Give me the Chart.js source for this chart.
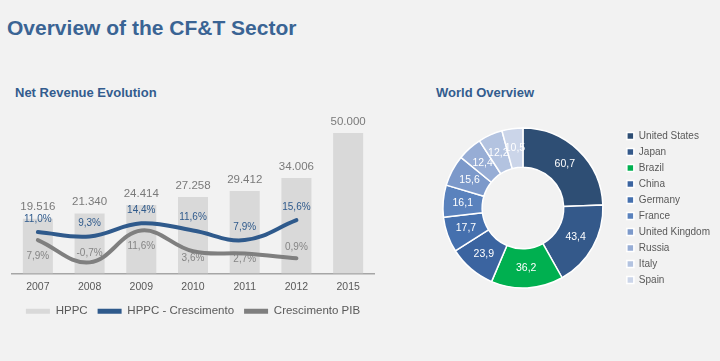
<!DOCTYPE html>
<html>
<head>
<meta charset="utf-8">
<script src="https://cdn.jsdelivr.net/npm/chart.js@4.4.1/dist/chart.umd.min.js"></script>
<style>
  html, body { margin: 0; padding: 0; background: #F2F2F2; width: 720px; height: 361px; overflow: hidden; }
  body { position: relative; font-family: 'Liberation Sans', Arial, sans-serif; }
  .t { position: absolute; white-space: nowrap; font-weight: bold; line-height: 1; }
  #title { left: 7px; top: 17px; font-size: 21px; color: #3A6494; }
  #sub1 { left: 15px; top: 86px; font-size: 13px; color: #335C8E; }
  #sub2 { left: 436px; top: 86px; font-size: 13px; color: #335C8E; }
  #barWrap { position: absolute; left: 0; top: 100px; width: 387px; height: 227px; }
  #pieWrap { position: absolute; left: 425px; top: 108px; width: 295px; height: 200px; }
</style>
</head>
<body>
<div class="t" id="title">Overview of the CF&amp;T Sector</div>
<div class="t" id="sub1">Net Revenue Evolution</div>
<div class="t" id="sub2">World Overview</div>
<div id="barWrap"><canvas id="bar"></canvas></div>
<div id="pieWrap"><canvas id="pie"></canvas></div>
<script>
// ---- data ----
const years = ['2007', '2008', '2009', '2010', '2011', '2012', '2015'];
const hppc = [19516, 21340, 24414, 27258, 29412, 34006, 50000];
const hppcGrowth = [11.0, 9.3, 14.4, 11.6, 7.9, 15.6, null];
const gdpGrowth = [7.9, -0.7, 11.6, 3.6, 2.7, 0.9, null];

const countries = ['United States', 'Japan', 'Brazil', 'China', 'Germany', 'France', 'United Kingdom', 'Russia', 'Italy', 'Spain'];
const countryValues = [60.7, 43.4, 36.2, 23.9, 17.7, 16.1, 15.6, 12.4, 12.2, 10.5];

// ---- styles ----
const FONT = "'Liberation Sans', Arial, sans-serif";
Chart.defaults.font.family = FONT;
const BLUE = '#2F5A8C';
const GREY = '#7F7F7F';
const BARC = '#D9D9D9';
const countryColors = ['#2E4E74', '#34598A', '#00B050', '#3B64A0', '#4570AE', '#5A82BD', '#7C99CA', '#97ADD5', '#B3C3E0', '#CBD5E9'];
// label placement style for GDP labels (vertical offset from point, px)
const gdpLabelOffset = [16, -9, 16, 7, 6, -11];

function thousands(v) {
  return String(v).replace(/\B(?=(\d{3})+(?!\d))/g, '.');
}
function pct(v) {
  return v.toFixed(1).replace('.', ',') + '%';
}

const barLabels = {
  id: 'barLabels',
  afterDatasetsDraw(chart) {
    const ctx = chart.ctx;
    ctx.save();
    ctx.textAlign = 'center';
    ctx.textBaseline = 'middle';
    const m0 = chart.getDatasetMeta(0);
    ctx.font = '11.5px ' + FONT;
    ctx.fillStyle = '#7A7A7A';
    m0.data.forEach((el, i) => {
      ctx.fillText(thousands(hppc[i]), el.x, el.y - 11.5);
    });
    const m1 = chart.getDatasetMeta(1);
    ctx.font = '10px ' + FONT;
    ctx.fillStyle = BLUE;
    m1.data.forEach((el, i) => {
      if (hppcGrowth[i] == null) return;
      ctx.fillText(pct(hppcGrowth[i]), el.x, el.y - 13);
    });
    const m2 = chart.getDatasetMeta(2);
    ctx.fillStyle = '#858585';
    m2.data.forEach((el, i) => {
      if (gdpGrowth[i] == null) return;
      ctx.fillText(pct(gdpGrowth[i]), el.x, el.y + gdpLabelOffset[i]);
    });
    ctx.restore();
  }
};

new Chart(document.getElementById('bar'), {
  data: {
    labels: years,
    datasets: [
      {
        type: 'bar', label: 'HPPC', data: hppc, yAxisID: 'y',
        backgroundColor: BARC, borderWidth: 0,
        barPercentage: 0.58, categoryPercentage: 1, order: 1
      },
      {
        type: 'line', label: 'HPPC - Crescimento', data: hppcGrowth, yAxisID: 'y2',
        borderColor: BLUE, backgroundColor: BLUE, borderWidth: 4, tension: 0.4,
        pointRadius: 0, fill: false, order: 0, borderCapStyle: 'round'
      },
      {
        type: 'line', label: 'Crescimento PIB', data: gdpGrowth, yAxisID: 'y2',
        borderColor: GREY, backgroundColor: GREY, borderWidth: 4, tension: 0.4,
        pointRadius: 0, fill: false, order: 0, borderCapStyle: 'round'
      }
    ]
  },
  options: {
    responsive: true, maintainAspectRatio: false, animation: false,
    layout: { padding: { left: 12, right: 13, top: 12, bottom: 0 } },
    plugins: {
      tooltip: { enabled: false },
      legend: {
        position: 'bottom',
        labels: {
          boxWidth: 24, boxHeight: 5, padding: 10,
          color: '#595959', font: { size: 11.5 },
          sort: (a, b) => a.datasetIndex - b.datasetIndex,
          generateLabels(chart) {
            return chart.data.datasets.map((ds, i) => ({
              text: ds.label,
              fillStyle: ds.type === 'bar' ? ds.backgroundColor : ds.borderColor,
              strokeStyle: 'rgba(0,0,0,0)', lineWidth: 0,
              fontColor: '#595959',
              datasetIndex: i, hidden: false
            }));
          }
        }
      }
    },
    scales: {
      x: {
        grid: { display: false, drawTicks: false },
        border: { display: true, color: '#A6A6A6', width: 1.5 },
        ticks: { color: '#595959', font: { size: 10.5 }, padding: 7 },
        afterFit(scale) { scale.height = 22; }
      },
      y: { display: false, min: 0, max: 57500 },
      y2: { display: false, min: -5, max: 57.4 }
    }
  },
  plugins: [barLabels]
});

const pieLabels = {
  id: 'pieLabels',
  afterDatasetsDraw(chart) {
    const ctx = chart.ctx;
    const meta = chart.getDatasetMeta(0);
    ctx.save();
    ctx.textAlign = 'center';
    ctx.textBaseline = 'middle';
    ctx.font = '10.5px ' + FONT;
    ctx.fillStyle = '#FFFFFF';
    meta.data.forEach((arc, i) => {
      const p = arc.tooltipPosition();
      ctx.fillText(String(countryValues[i]).replace('.', ','), p.x, p.y);
    });
    ctx.restore();
  }
};

new Chart(document.getElementById('pie'), {
  type: 'doughnut',
  data: {
    labels: countries,
    datasets: [{
      data: countryValues,
      backgroundColor: countryColors,
      borderColor: '#FFFFFF', borderWidth: 1.5
    }]
  },
  options: {
    responsive: true, maintainAspectRatio: false, animation: false,
    cutout: '51%',
    radius: 80,
    layout: { padding: 0 },
    plugins: {
      tooltip: { enabled: false },
      legend: {
        position: 'right',
        labels: {
          boxWidth: 7, boxHeight: 7, padding: 6,
          color: '#595959', font: { size: 10 }
        }
      }
    }
  },
  plugins: [pieLabels]
});
</script>
</body>
</html>
